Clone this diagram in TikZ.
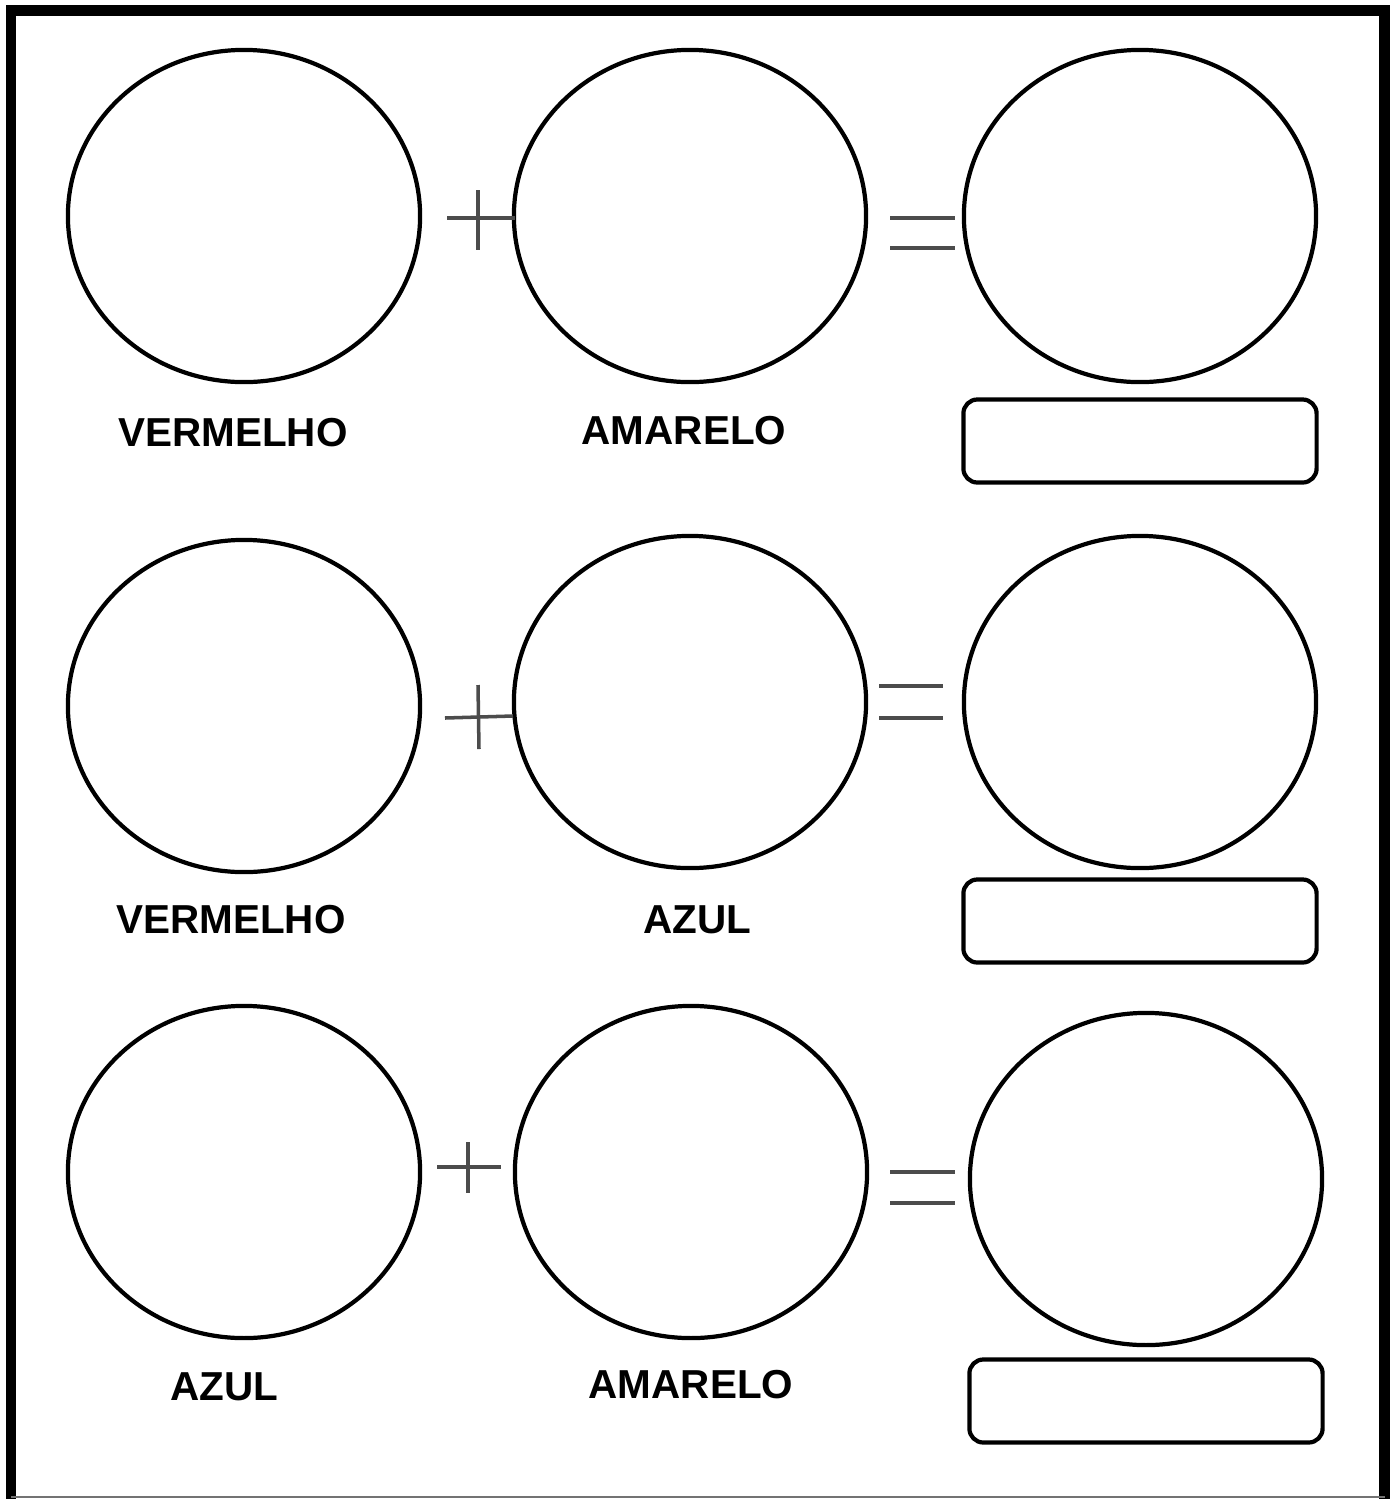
\documentclass[tikz,border=0pt]{standalone}
\usepackage{fontspec}
\setmainfont{Liberation Sans}
\usetikzlibrary{shapes.geometric}
\tikzset{
  circ/.style={ellipse, draw=black, line width=1.2pt, minimum width=3.52cm, minimum height=3.32cm, inner sep=0pt},
  ansbox/.style={rectangle, rounded corners=0.14cm, draw=black, line width=1.2pt, minimum width=3.53cm, minimum height=0.83cm, inner sep=0pt},
  lbl/.style={font=\fontsize{11.5}{13}\selectfont\bfseries, inner sep=0pt, anchor=center},
  sign/.style={draw=black!70, line width=1pt},
  frame/.style={draw=black, line width=2.9pt}
}
\begin{document}
\begin{tikzpicture}[x=0.01cm, y=-0.01cm]
\useasboundingbox (0,0) rectangle (1397,1499);
\fill[white] (0,0) rectangle (1397,1499);
% frame
\draw[frame] (11,1499) -- (11,10.5) -- (1384.5,10.5) -- (1384.5,1499);
\draw[black!55, line width=0.6pt] (11,1497) -- (1384.5,1497);

% row 1
\node[circ] (r1a) at (244,216) {};
\node[circ] (r1b) at (690,216) {};
\node[circ] (r1c) at (1140,216) {};
\node[lbl] (l1a) at (233,433) {VERMELHO};
\node[lbl] (l1b) at (684,431) {AMARELO};
\node[ansbox] (b1) at (1140,441) {};
\draw[sign] (447,218) -- (515,218);
\draw[sign] (478,190) -- (478,250);
\draw[sign] (890,218) -- (955,218);
\draw[sign] (890,248) -- (955,248);

% row 2
\node[circ] (r2a) at (244,706) {};
\node[circ] (r2b) at (690,702) {};
\node[circ] (r2c) at (1140,702) {};
\node[lbl] (l2a) at (231,920) {VERMELHO};
\node[lbl] (l2b) at (697,920) {AZUL};
\node[ansbox] (b2) at (1140,921) {};
\draw[sign] (445,718) -- (513,716);
\draw[sign] (478,685) -- (479,749);
\draw[sign] (879,686) -- (943,686);
\draw[sign] (879,718) -- (943,718);

% row 3
\node[circ] (r3a) at (244,1172) {};
\node[circ] (r3b) at (691,1172) {};
\node[circ] (r3c) at (1146,1179) {};
\node[lbl] (l3a) at (224,1387) {AZUL};
\node[lbl] (l3b) at (691,1385) {AMARELO};
\node[ansbox] (b3) at (1146,1401) {};
\draw[sign] (437,1167) -- (501,1167);
\draw[sign] (468,1142) -- (468,1193);
\draw[sign] (890,1172) -- (955,1172);
\draw[sign] (890,1203) -- (955,1203);
\end{tikzpicture}
\end{document}
